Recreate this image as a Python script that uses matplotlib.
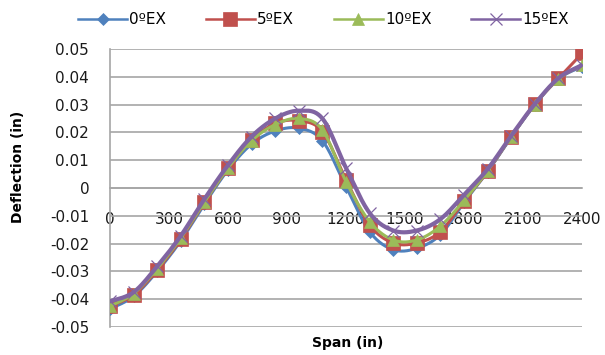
import numpy as np
import matplotlib
matplotlib.use("Agg")
import matplotlib.pyplot as plt
from matplotlib.lines import Line2D

plt.rcParams['font.family'] = ['DejaVu Sans']

# Span stations (in)
span = [0, 120, 240, 360, 480, 600, 720, 840, 960, 1080, 1200,
        1320, 1440, 1560, 1680, 1800, 1920, 2040, 2160, 2280, 2400]

# Deflection (in) for each skew angle
defl_0 = [-0.0435, -0.0390, -0.0300, -0.0190, -0.0058, 0.0065, 0.0158, 0.0205,
          0.0215, 0.0170, 0.0005, -0.0157, -0.0222, -0.0217, -0.0168, -0.0052,
          0.0058, 0.0183, 0.0300, 0.0393, 0.0436]
defl_5 = [-0.0425, -0.0385, -0.0295, -0.0185, -0.0052, 0.0071, 0.0173, 0.0232,
          0.0242, 0.0203, 0.0030, -0.0133, -0.0198, -0.0198, -0.0157, -0.0047,
          0.0060, 0.0185, 0.0302, 0.0394, 0.0484]
defl_10 = [-0.0425, -0.0380, -0.0290, -0.0180, -0.0050, 0.0072, 0.0170, 0.0228,
           0.0250, 0.0209, 0.0023, -0.0121, -0.0187, -0.0187, -0.0137, -0.0045,
           0.0062, 0.0185, 0.0300, 0.0392, 0.0442]
defl_15 = [-0.0408, -0.0375, -0.0282, -0.0172, -0.0040, 0.0082, 0.0185, 0.0250,
           0.0278, 0.0250, 0.0072, -0.0090, -0.0153, -0.0153, -0.0112, -0.0025,
           0.0068, 0.0188, 0.0302, 0.0395, 0.0442]

labels = ["0ºEX", "5ºEX", "10ºEX", "15ºEX"]
x_ticks = [0, 300, 600, 900, 1200, 1500, 1800, 2100, 2400]
y_ticks = [-0.05, -0.04, -0.03, -0.02, -0.01, 0, 0.01, 0.02, 0.03, 0.04, 0.05]


def smooth_curve(x, y, steps=24):
    """Catmull-Rom style Bezier smoothing through every data point."""
    x = np.asarray(x, float)
    y = np.asarray(y, float)
    n = len(x)
    xs, ys = [], []
    t = np.linspace(0, 1, steps, endpoint=False)
    for i in range(n - 1):
        p0 = np.array([x[max(i - 1, 0)], y[max(i - 1, 0)]])
        p1 = np.array([x[i], y[i]])
        p2 = np.array([x[i + 1], y[i + 1]])
        p3 = np.array([x[min(i + 2, n - 1)], y[min(i + 2, n - 1)]])
        c1 = p1 + (p2 - p0) / 6.0
        c2 = p2 - (p3 - p1) / 6.0
        b = ((1 - t) ** 3)[:, None] * p1 + (3 * (1 - t) ** 2 * t)[:, None] * c1 \
            + (3 * (1 - t) * t ** 2)[:, None] * c2 + (t ** 3)[:, None] * p2
        xs.extend(b[:, 0])
        ys.extend(b[:, 1])
    xs.append(x[-1])
    ys.append(y[-1])
    return np.array(xs), np.array(ys)


series = [
    (defl_0, "#4F81BD", "D", 6.5, 2.2, labels[0]),
    (defl_5, "#C0504D", "s", 9.5, 2.2, labels[1]),
    (defl_10, "#9BBB59", "^", 9, 2.2, labels[2]),
    (defl_15, "#8064A2", "x", 8, 3.0, labels[3]),
]

fig = plt.figure(figsize=(6.05, 3.55), dpi=100)
ax = fig.add_axes([0.1818, 0.079, 0.7802, 0.783])

handles = []
for k, (vals, color, marker, ms, lw, lab) in enumerate(series):
    sx, sy = smooth_curve(span, vals)
    ax.plot(sx, sy, color=color, lw=lw, zorder=3 + k, solid_capstyle='round')
    ax.plot(span, vals, linestyle='none', marker=marker, markersize=ms,
            color=color, markeredgecolor=color,
            markeredgewidth=0.9 if marker == 'x' else 0.5, zorder=3 + k)
    handles.append(Line2D([0], [0], color=color, lw=1.8, marker=marker,
                          markersize=ms, markeredgecolor=color,
                          markeredgewidth=0.9 if marker == 'x' else 0.5))

ax.set_xlim(0, 2400)
ax.set_ylim(-0.05, 0.05)
ax.set_yticks(y_ticks)
ax.set_yticklabels(["0" if v == 0 else f"{v:.2f}" for v in y_ticks])
ax.set_xticks(x_ticks)
ax.set_xticklabels([str(v) for v in x_ticks])

ax.grid(axis='y', color='#A6A6A6', lw=1.2, zorder=0)
ax.set_axisbelow(True)

for side in ['top', 'right']:
    ax.spines[side].set_visible(False)
ax.spines['left'].set_color('#A6A6A6')
ax.spines['left'].set_linewidth(1.2)
ax.spines['bottom'].set_position(('data', 0))
ax.spines['bottom'].set_color('#A6A6A6')
ax.spines['bottom'].set_linewidth(1.2)

ax.tick_params(axis='y', length=0, pad=15, labelsize=11, labelcolor='#1a1a1a')
ax.tick_params(axis='x', length=0, pad=17, labelsize=11, labelcolor='#1a1a1a')

fig.text(0.030, 0.53, "Deflection (in)", rotation=90, ha='center', va='center',
         fontsize=10, fontweight='bold')
fig.text(0.575, 0.033, "Span (in)", ha='center', va='center',
         fontsize=10, fontweight='bold')

fig.legend(handles, labels, loc='center', bbox_to_anchor=(0.535, 0.945), ncol=4,
           frameon=False, fontsize=11, handlelength=3.2, columnspacing=2.6,
           handletextpad=0.15)

fig.savefig("out.png", dpi=100)
